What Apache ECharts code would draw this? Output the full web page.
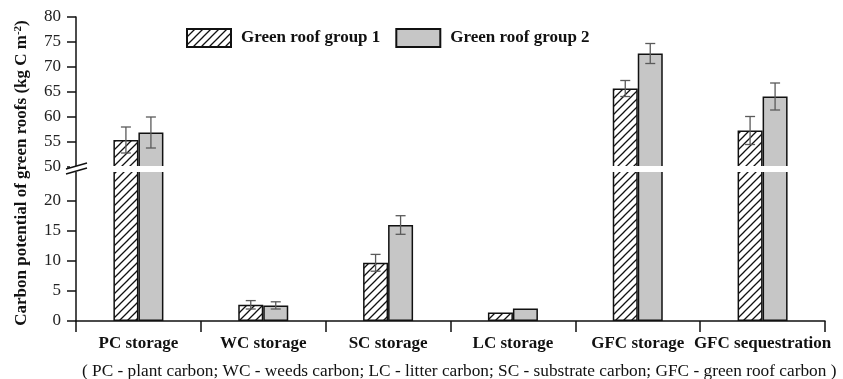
<!DOCTYPE html>
<html>
<head>
<meta charset="utf-8">
<script src="https://cdn.jsdelivr.net/npm/echarts@6/dist/echarts.min.js"></script>
<style>
  html, body { margin: 0; padding: 0; background: #fff; }
  #chart { width: 843px; height: 379px; }
</style>
</head>
<body>
<div id="chart"></div>
<script>
// Carbon pools of two groups of green roofs (kg C m-2), mean and error
const categories = ['PC storage', 'WC storage', 'SC storage', 'LC storage', 'GFC storage', 'GFC sequestration'];
const group1 = [55.4, 2.7, 9.7, 1.4, 65.7, 57.3];
const group2 = [56.9, 2.6, 16.0, 2.1, 72.7, 64.1];
const group1Err = [2.6, 0.7, 1.4, null, 1.6, 2.8];
const group2Err = [3.1, 0.6, 1.55, null, 2.0, 2.7];
const upperTicks = [50, 55, 60, 65, 70, 75, 80];
const lowerTicks = [0, 5, 10, 15, 20];
const seriesNames = ['Green roof group 1', 'Green roof group 2'];

const FONT = '"Liberation Serif", "Times New Roman", serif';
const UPPER = { min: 50, max: 80 };
const LOWER = { min: 0, max: 25 };
const GRID_LEFT = 76, GRID_RIGHT = 843 - 825;
const UPPER_TOP = 17, PANEL_H = 150, LOWER_TOP = 171;
const BAR_W = 25;

// diagonal hatch used for group 1
function hatchPattern() {
  const s = 8;
  const c = document.createElement('canvas');
  c.width = s; c.height = s;
  const g = c.getContext('2d');
  g.fillStyle = '#fff';
  g.fillRect(0, 0, s, s);
  g.strokeStyle = '#111';
  g.lineWidth = 1.3;
  g.beginPath();
  g.moveTo(-1, s + 1); g.lineTo(s + 1, -1);
  g.moveTo(-1, 1); g.lineTo(1, -1);
  g.moveTo(s - 1, s + 1); g.lineTo(s + 1, s - 1);
  g.stroke();
  return c;
}
const hatch = { image: hatchPattern(), repeat: 'repeat' };
const fills = [hatch, '#c6c6c6'];

const chart = echarts.init(document.getElementById('chart'), null, { renderer: 'canvas' });

function xAxisFor(gridIndex, visible) {
  return {
    type: 'category', gridIndex, data: categories,
    boundaryGap: true,
    axisLine: { show: visible, lineStyle: { color: '#111', width: 1.5 } },
    axisTick: { show: visible, inside: false, length: 11, alignWithLabel: false,
                lineStyle: { color: '#111', width: 1.5 } },
    axisLabel: { show: visible, margin: 14, color: '#111',
                 fontFamily: FONT, fontWeight: 'bold', fontSize: 17, interval: 0 },
    splitLine: { show: false }
  };
}

function yAxisFor(gridIndex, range, ticks) {
  return {
    type: 'value', gridIndex, min: range.min, max: range.max,
    axisLine: { show: true, lineStyle: { color: '#111', width: 1.5 } },
    axisTick: { show: true, inside: false, length: 9, customValues: ticks,
                lineStyle: { color: '#111', width: 1.5 } },
    axisLabel: { margin: 15, color: '#222', fontFamily: FONT, fontSize: 17, customValues: ticks },
    splitLine: { show: false }
  };
}

function barSeries(idx, gridIndex, values) {
  return {
    type: 'bar', name: seriesNames[idx],
    xAxisIndex: gridIndex, yAxisIndex: gridIndex,
    data: values, barWidth: BAR_W, barGap: '0%',
    clip: true,
    itemStyle: { color: fills[idx], borderColor: '#111', borderWidth: 1.5 },
    emphasis: { disabled: true },
    silent: true,
    z: 2
  };
}

// error bars: vertical whisker with caps, drawn beside the bar centre
function errorSeries(idx, gridIndex, range, values, errs) {
  const data = [];
  values.forEach((v, i) => {
    const e = errs[i];
    if (e == null) return;
    if (v < range.min || v > range.max) return;
    data.push([i, v - e, v + e]);
  });
  const sign = idx === 0 ? -1 : 1;
  return {
    type: 'custom', name: 'err' + idx,
    xAxisIndex: gridIndex, yAxisIndex: gridIndex,
    data, silent: true, z: 5,
    renderItem(params, api) {
      const cat = api.value(0);
      const lo = api.coord([cat, api.value(1)]);
      const hi = api.coord([cat, api.value(2)]);
      const x = lo[0] + sign * BAR_W / 2;
      const cap = 5;
      const style = { stroke: '#5a5a5a', lineWidth: 1.3 };
      return {
        type: 'group',
        children: [
          { type: 'line', shape: { x1: x, y1: lo[1], x2: x, y2: hi[1] }, style },
          { type: 'line', shape: { x1: x - cap, y1: hi[1], x2: x + cap, y2: hi[1] }, style },
          { type: 'line', shape: { x1: x - cap, y1: lo[1], x2: x + cap, y2: lo[1] }, style }
        ]
      };
    }
  };
}

const option = {
  backgroundColor: '#fff',
  animation: false,
  grid: [
    { left: GRID_LEFT, right: GRID_RIGHT, top: UPPER_TOP, height: PANEL_H, containLabel: false },
    { left: GRID_LEFT, right: GRID_RIGHT, top: LOWER_TOP, height: PANEL_H, containLabel: false }
  ],
  xAxis: [xAxisFor(0, false), xAxisFor(1, true)],
  yAxis: [yAxisFor(0, UPPER, upperTicks), yAxisFor(1, LOWER, lowerTicks)],
  legend: {
    data: seriesNames,
    left: 186, top: 28, padding: 0,
    itemWidth: 44, itemHeight: 18, itemGap: 15,
    icon: 'rect',
    selectedMode: false,
    textStyle: { fontFamily: FONT, fontWeight: 'bold', fontSize: 17, color: '#111', padding: [0, 0, 0, 5] }
  },
  series: [
    barSeries(0, 0, group1), barSeries(1, 0, group2),
    barSeries(0, 1, group1), barSeries(1, 1, group2),
    errorSeries(0, 0, UPPER, group1, group1Err), errorSeries(1, 0, UPPER, group2, group2Err),
    errorSeries(0, 1, LOWER, group1, group1Err), errorSeries(1, 1, LOWER, group2, group2Err)
  ],
  graphic: [
    // white band separating the two axis segments
    { type: 'rect', z: 50, silent: true,
      shape: { x: 70, y: UPPER_TOP + PANEL_H - 1, width: 843 - 70, height: LOWER_TOP - UPPER_TOP - PANEL_H + 2 },
      style: { fill: '#fff' } },
    // axis break marks
    { type: 'line', z: 51, silent: true, shape: { x1: 66, y1: 169, x2: 87, y2: 163 },
      style: { stroke: '#111', lineWidth: 1.5 } },
    { type: 'line', z: 51, silent: true, shape: { x1: 66, y1: 174, x2: 87, y2: 168 },
      style: { stroke: '#111', lineWidth: 1.5 } },
    // y-axis title
    { type: 'text', z: 51, silent: true,
      x: 22, y: 173, rotation: Math.PI / 2,
      style: {
        text: '{b|Carbon potential of green roofs (kg C m}{s|-2}{b|)}',
        align: 'center', verticalAlign: 'middle',
        rich: {
          b: { fontFamily: FONT, fontWeight: 'bold', fontSize: 17, fill: '#111' },
          s: { fontFamily: FONT, fontWeight: 'bold', fontSize: 11, fill: '#111', verticalAlign: 'top', padding: [0, 0, 8, 0] }
        }
      } },
    // abbreviation note
    { type: 'text', z: 51, silent: true, x: 82, y: 371,
      style: {
        text: '( PC - plant carbon; WC - weeds carbon; LC - litter carbon; SC - substrate carbon; GFC - green roof carbon )',
        fontFamily: FONT, fontSize: 17.3, fill: '#111', verticalAlign: 'middle'
      } }
  ]
};

chart.setOption(option);
</script>
</body>
</html>
